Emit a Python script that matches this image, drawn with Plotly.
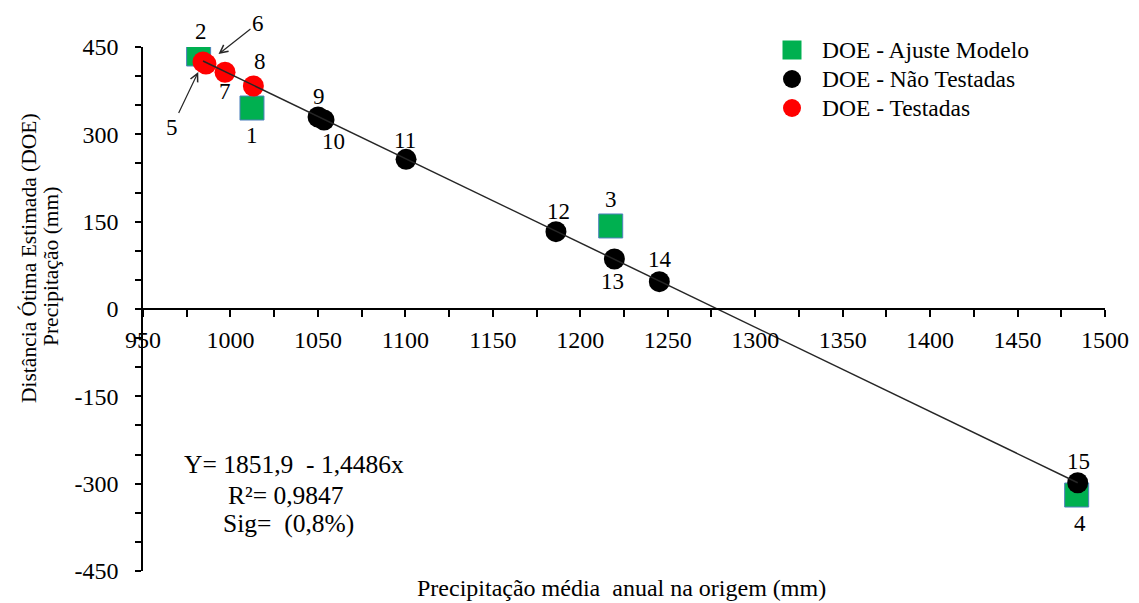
import plotly.graph_objects as go

# ---------------- data ----------------
green_x = [1012.3, 981.8, 1217.4, 1483.8]
green_y = [345.2, 438.0, 142.6, -319.5]
green_lab = ["1", "2", "3", "4"]

black_x = [1050.1, 1053.5, 1100.4, 1186.1, 1219.5, 1245.2, 1484.4]
black_y = [329.8, 324.6, 257.1, 132.8, 85.9, 46.9, -298.4]
black_lab = ["9", "10", "11", "12", "13", "14", "15"]

red_x = [984.3, 986.0, 996.9, 1013.1]
red_y = [424.2, 420.8, 406.6, 383.0]
red_lab = ["5", "6", "7", "8"]

series_names = ["DOE - Ajuste Modelo", "DOE - Não Testadas", "DOE - Testadas"]
series_colors = ["#00b050", "black", "#ff0000"]

intercept = 1851.9
slope = -1.4486

x_ticks = list(range(950, 1501, 50))
y_ticks = list(range(-450, 451, 150))

FONT = "Liberation Serif, Times New Roman, serif"

L, R, T, B = 143, 34, 47, 32
W, H = 1139, 603
pw, ph = W - L - R, H - T - B


def px(xp):
    return (xp - L) / pw


def py(yp):
    return (H - B - yp) / ph


fig = go.Figure()
fig.add_trace(go.Scatter(
    x=green_x, y=green_y, mode="markers", name=series_names[0], showlegend=False,
    marker=dict(symbol="square", size=24, color=series_colors[0],
                line=dict(color="#4f81bd", width=1))))
fig.add_trace(go.Scatter(
    x=black_x, y=black_y, mode="markers", name=series_names[1], showlegend=False,
    marker=dict(symbol="circle", size=21, color=series_colors[1])))
fig.add_trace(go.Scatter(
    x=red_x, y=red_y, mode="markers", name=series_names[2], showlegend=False,
    marker=dict(symbol="circle", size=21, color=series_colors[2])))

lx = [min(red_x), max(black_x)]
ly = [intercept + slope * v for v in lx]
fig.add_trace(go.Scatter(x=lx, y=ly, mode="lines", showlegend=False,
                         line=dict(color="#262626", width=1.5)))

LABEL_SIZE = 23
offsets = {
    "1": (0, -27), "2": (2, 22), "3": (0, 26), "4": (3, -28),
    "7": (0, -19), "8": (7, 25),
    "9": (1, 20), "10": (9, -21), "11": (-1, 19), "12": (3, 20),
    "13": (-2, -23), "14": (1, 22), "15": (1, 21),
}
annots = []
for labs, xs, ys in [(green_lab, green_x, green_y), (black_lab, black_x, black_y),
                     (red_lab, red_x, red_y)]:
    for lab, xv, yv in zip(labs, xs, ys):
        if lab in offsets:
            dx, dy = offsets[lab]
            annots.append(dict(x=xv, y=yv, xref="x", yref="y", text=lab,
                               showarrow=False, xshift=dx, yshift=dy,
                               font=dict(family=FONT, size=LABEL_SIZE, color="black")))
annots.append(dict(x=red_x[0], y=red_y[0], xref="x", yref="y", text="5",
                   showarrow=True, ax=-31, ay=65, standoff=11,
                   arrowhead=5, arrowsize=1.3, arrowwidth=1.2, arrowcolor="#262626",
                   font=dict(family=FONT, size=LABEL_SIZE, color="black")))
annots.append(dict(x=red_x[1], y=red_y[1], xref="x", yref="y", text="6",
                   showarrow=True, ax=52, ay=-41, standoff=16,
                   arrowhead=5, arrowsize=1.3, arrowwidth=1.2, arrowcolor="#262626",
                   font=dict(family=FONT, size=LABEL_SIZE, color="black")))

# equation text
eq = [("Y= 1851,9&nbsp;&nbsp;- 1,4486x", 294, 464),
      ("R²= 0,9847", 285.5, 495),
      ("Sig=&nbsp;&nbsp;(0,8%)", 288.5, 523)]
for t, xp, yp in eq:
    annots.append(dict(x=px(xp), y=py(yp), xref="paper", yref="paper", text=t,
                       showarrow=False, xanchor="center", yanchor="middle",
                       font=dict(family=FONT, size=25.5, color="black")))

# axis titles
annots.append(dict(x=px(621), y=py(588), xref="paper", yref="paper",
                   text="Precipitação média&nbsp;&nbsp;anual na origem (mm)",
                   showarrow=False, xanchor="center", yanchor="middle",
                   font=dict(family=FONT, size=24, color="black")))
annots.append(dict(x=px(29), y=py(258), xref="paper", yref="paper",
                   text="Distância Ótima Estimada (DOE)",
                   showarrow=False, xanchor="center", yanchor="middle", textangle=-90,
                   font=dict(family=FONT, size=21.5, color="black")))
annots.append(dict(x=px(51), y=py(267), xref="paper", yref="paper",
                   text="Precipitação (mm)",
                   showarrow=False, xanchor="center", yanchor="middle", textangle=-90,
                   font=dict(family=FONT, size=21.5, color="black")))

# custom legend (markers as shapes + texts)
shapes = []
leg_x, leg_ys, text_x = 792, [50, 79, 108], 820
for i, (name, col, ly_) in enumerate(zip(series_names, series_colors, leg_ys)):
    r = 9.5 if i == 0 else 9
    kind = "rect" if i == 0 else "circle"
    shapes.append(dict(type=kind, xref="paper", yref="paper",
                       x0=px(leg_x - r), x1=px(leg_x + r),
                       y0=py(ly_ + r), y1=py(ly_ - r),
                       fillcolor=col, line=dict(width=0)))
    annots.append(dict(x=px(text_x), y=py(ly_), xref="paper", yref="paper", text=name,
                       showarrow=False, xanchor="left", yanchor="middle",
                       font=dict(family=FONT, size=23.5, color="black")))

TICK_SIZE = 24
fig.update_layout(
    width=W, height=H,
    margin=dict(l=L, r=R, t=T, b=B, autoexpand=False),
    paper_bgcolor="white", plot_bgcolor="white",
    font=dict(family=FONT, size=22, color="black"),
    annotations=annots,
    shapes=shapes,
    showlegend=False,
    xaxis=dict(range=[950, 1500], anchor="free", position=0.5, automargin=False,
               tickmode="array", tickvals=x_ticks, ticktext=[str(v) for v in x_ticks],
               showgrid=False, zeroline=False, showline=True, linecolor="black",
               linewidth=1.5, ticks="outside", ticklen=7, tickwidth=1.5,
               tickcolor="black", ticklabelstandoff=2,
               minor=dict(tick0=950, dtick=25, ticks="outside", ticklen=7,
                          tickwidth=1.5, tickcolor="black", showgrid=False),
               tickfont=dict(family=FONT, size=TICK_SIZE, color="black")),
    yaxis=dict(range=[-450, 450], automargin=False,
               tickmode="array", tickvals=y_ticks, ticktext=[str(v) for v in y_ticks],
               showgrid=False, zeroline=False, showline=True, linecolor="black",
               linewidth=1.5, ticks="outside", ticklen=6, tickwidth=1.5,
               tickcolor="black", ticklabelstandoff=12,
               minor=dict(tick0=-450, dtick=50, ticks="outside", ticklen=6,
                          tickwidth=1.5, tickcolor="black", showgrid=False),
               tickfont=dict(family=FONT, size=TICK_SIZE, color="black")),
)

fig.write_html("out.html", config={"displayModeBar": False},
               post_script="document.body.style.margin='0';document.body.style.padding='0';")
